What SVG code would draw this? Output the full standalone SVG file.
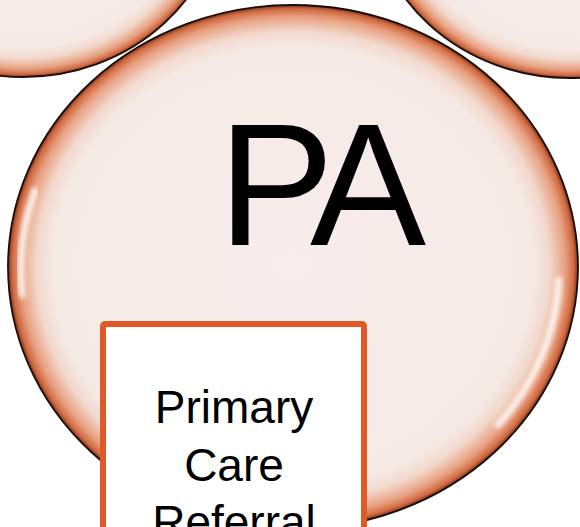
<svg xmlns="http://www.w3.org/2000/svg" width="580" height="527" viewBox="0 0 580 527">
<defs>
<radialGradient id="bub" cx="0.5" cy="0.5" r="0.5">
<stop offset="0" stop-color="#F7EDEA"/>
<stop offset="0.84" stop-color="#F6EAE6"/>
<stop offset="0.9" stop-color="#F2D8CC"/>
<stop offset="0.955" stop-color="#E8A080"/>
<stop offset="0.985" stop-color="#D06A42"/>
<stop offset="1" stop-color="#7A3418"/>
</radialGradient>
<filter id="blur" x="-0.2" y="-0.2" width="1.4" height="1.4"><feGaussianBlur stdDeviation="2.5"/></filter>
<style>
.bubble{fill:url(#bub);stroke:#1a0d08;stroke-width:1.8}
.hl{fill:none;stroke:#ffffff;stroke-width:6;stroke-linecap:round;filter:url(#blur);opacity:0.95}
.box{fill:#ffffff;stroke:#E05A28;stroke-width:6}
.t{font-family:"Liberation Sans",Arial,sans-serif;fill:#000000;text-anchor:middle}
</style>
</defs>
<g id="node-topleft">
<ellipse class="bubble" cx="23" cy="-107" rx="200" ry="184"/>
</g>
<g id="node-topright">
<ellipse class="bubble" cx="570" cy="-106" rx="200" ry="184"/>
</g>
<g id="node-pa">
<ellipse class="bubble" cx="293" cy="267" rx="285" ry="262"/>
<path class="hl" d="M 35 190 A 273 250 0 0 0 22 295"/>
<path class="hl" d="M 559 280 A 267 244 0 0 1 498 425"/>
<text class="t" x="316.5" y="245" font-size="174" letter-spacing="-11">PA</text>
</g>
<g id="node-referral">
<rect class="box" x="103" y="324" width="261" height="240" rx="2"/>
<text class="t" font-size="46"><tspan x="234" y="423">Primary</tspan><tspan x="234" y="480.5">Care</tspan><tspan x="234" y="538">Referral</tspan></text>
</g>
<g id="connectors"/>
</svg>
